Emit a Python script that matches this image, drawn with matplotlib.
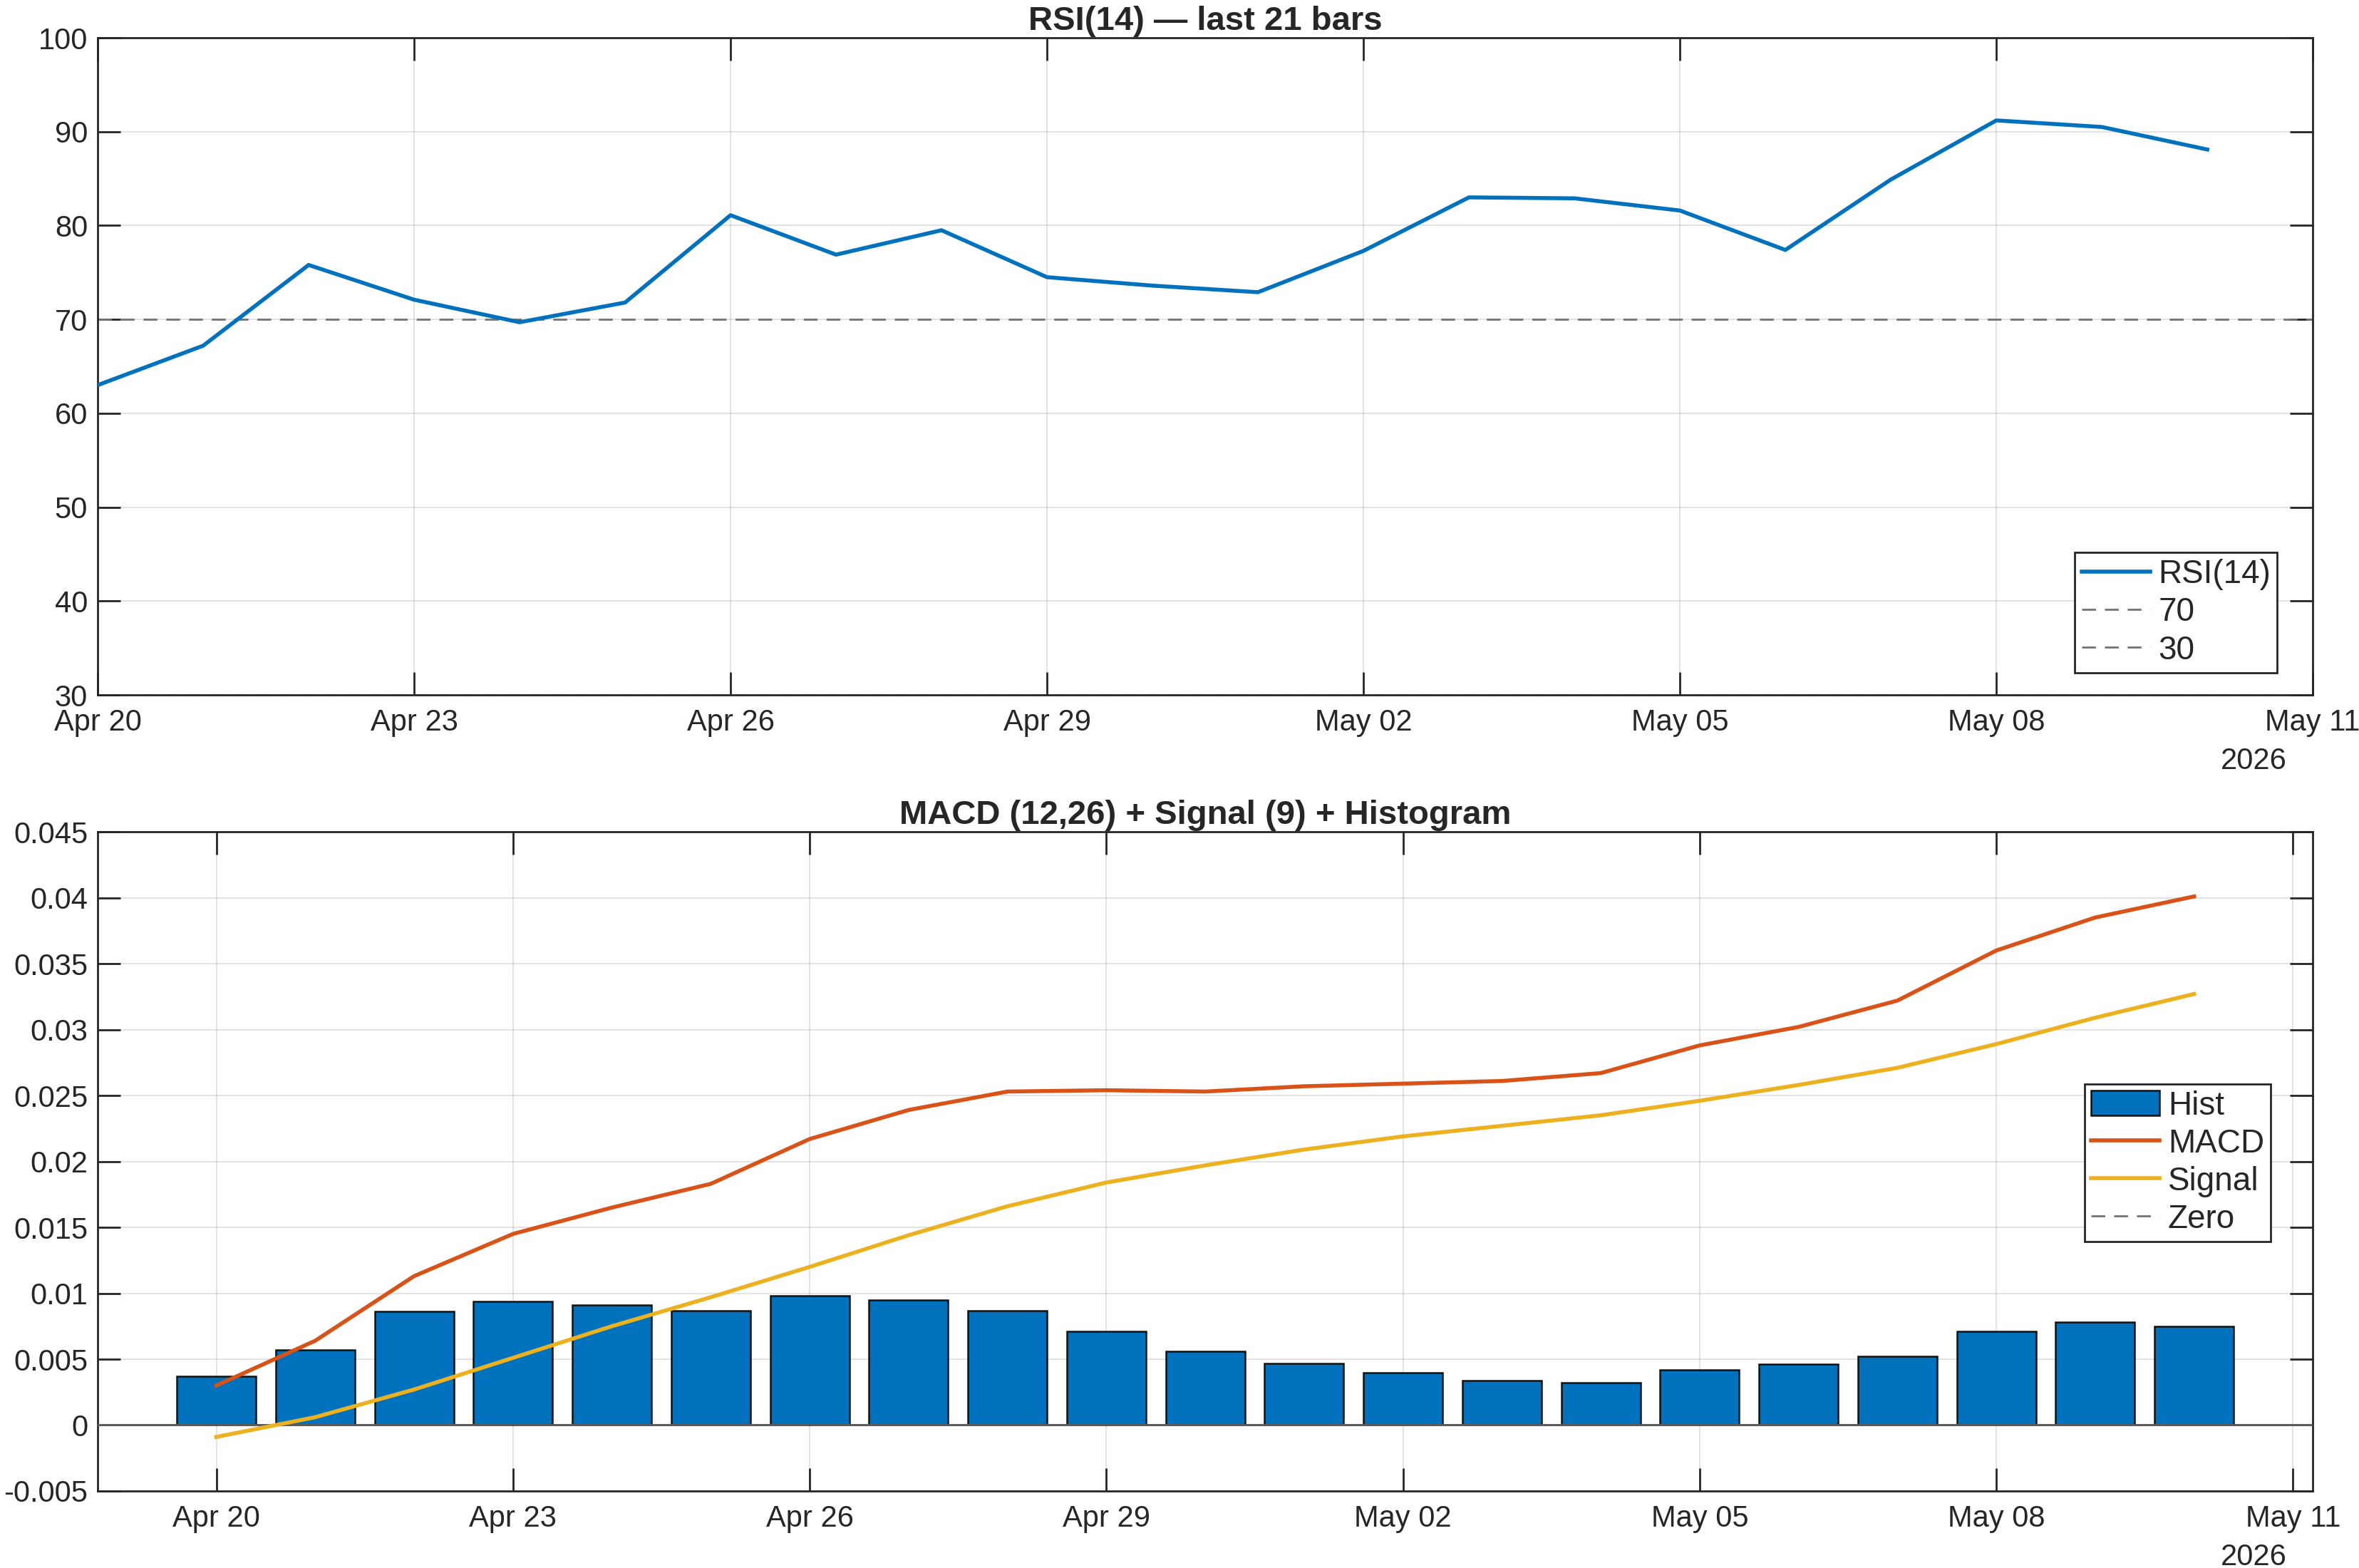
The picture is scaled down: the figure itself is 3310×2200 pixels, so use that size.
import numpy as np
import pandas as pd
import matplotlib
matplotlib.use("Agg")
import matplotlib.pyplot as plt
import matplotlib.dates as mdates
from matplotlib.ticker import FuncFormatter

# ---------------- data ----------------
dates = pd.date_range("2026-04-20", periods=21, freq="D")

rsi = [63.0, 67.2, 75.8, 72.1, 69.7, 71.8, 81.1, 76.9, 79.5, 74.5, 73.6,
       72.9, 77.3, 83.0, 82.9, 81.6, 77.4, 84.9, 91.2, 90.5, 88.1]

macd = [0.0030, 0.0064, 0.0113, 0.0145, 0.0165, 0.0183, 0.0217, 0.0239, 0.0253,
        0.0254, 0.0253, 0.0257, 0.0259, 0.0261, 0.0267, 0.0288, 0.0302, 0.0322,
        0.0360, 0.0385, 0.0401]
signal = [-0.0009, 0.0006, 0.0027, 0.0051, 0.0075, 0.0097, 0.0120, 0.0144, 0.0166,
          0.0184, 0.0197, 0.0209, 0.0219, 0.0227, 0.0235, 0.0246, 0.0258, 0.0271,
          0.0289, 0.0309, 0.0327]
hist = [0.0037, 0.0057, 0.0086, 0.0094, 0.0091, 0.0087, 0.0098, 0.0095, 0.0087,
        0.0071, 0.0056, 0.0047, 0.0040, 0.0034, 0.0032, 0.0042, 0.0046, 0.0052,
        0.0071, 0.0078, 0.0075]

overbought, oversold = 70, 30

# ---------------- style ----------------
plt.rcParams['font.family'] = ['Liberation Sans', 'DejaVu Sans']
plt.rcParams['axes.edgecolor'] = '#262626'
plt.rcParams['axes.linewidth'] = 1.0
plt.rcParams['text.color'] = '#262626'

blue = '#0072BD'
orange = '#D95319'
yellow = '#EDB120'
grey = '#737373'

fig = plt.figure(figsize=(16.55, 11), dpi=200)
ax1 = fig.add_axes([0.0414, 0.5568, 0.9390, 0.4191])
ax2 = fig.add_axes([0.0414, 0.0491, 0.9390, 0.4204])


def matlab_axes(ax):
    ax.grid(True, color='#262626', alpha=0.15, lw=0.6)
    ax.set_axisbelow(True)
    ax.tick_params(direction='in', length=11.5, width=1.0, top=True, right=True,
                   labelsize=15, colors='#262626', pad=7)
    ax.tick_params(axis='y', pad=5)
    ax.xaxis.set_major_locator(mdates.DayLocator(bymonthday=[2, 5, 8, 11, 20, 23, 26, 29]))
    ax.xaxis.set_major_formatter(mdates.DateFormatter('%b %d'))
    ax.annotate('2026', xy=(0.9884, 0), xycoords='axes fraction',
                xytext=(0, -33.5), textcoords='offset points',
                ha='right', va='center', fontsize=15, color='#262626')


# ---------------- RSI ----------------
ax1.plot(dates, rsi, color=blue, lw=2.0, label='RSI(14)', zorder=3)
ax1.axhline(overbought, color=grey, lw=1.0, ls=(0, (7, 4.5)), label='70', zorder=2)
ax1.axhline(oversold, color=grey, lw=1.0, ls=(0, (7, 4.5)), label='30', zorder=2)
ax1.set_xlim(pd.Timestamp('2026-04-20'), pd.Timestamp('2026-05-11'))
ax1.set_ylim(30, 100)
ax1.set_yticks(np.arange(30, 101, 10))
matlab_axes(ax1)
ax1.set_title('RSI(14) — last 21 bars', fontsize=17, fontweight='bold', pad=4)
leg1 = ax1.legend(loc='lower right', bbox_to_anchor=(0.984, 0.034), borderaxespad=0,
                  fontsize=16.5, fancybox=False, framealpha=1, edgecolor='#262626',
                  handlelength=2.1, handletextpad=0.25, labelspacing=0.2, borderpad=0.2)
leg1.get_frame().set_linewidth(1.0)

# ---------------- MACD ----------------
h_bar = ax2.bar(dates, hist, width=0.8, color=blue, edgecolor='#111111', lw=0.9,
                label='Hist', zorder=2)
h_macd, = ax2.plot(dates, macd, color=orange, lw=2.0, label='MACD', zorder=3)
h_sig, = ax2.plot(dates, signal, color=yellow, lw=2.0, label='Signal', zorder=3)
h_zero = ax2.axhline(0, color=grey, lw=1.0, ls=(0, (7, 4.5)), label='Zero', zorder=2.5)
ax2.axhline(0, color='#5a5a5a', lw=1.1, zorder=2.6)
ax2.set_xlim(dates[0] - pd.Timedelta(hours=28.8), dates[-1] + pd.Timedelta(hours=28.8))
ax2.set_ylim(-0.005, 0.045)
ax2.set_yticks(np.arange(-0.005, 0.0451, 0.005))
ax2.yaxis.set_major_formatter(FuncFormatter(lambda v, p: '%g' % round(v, 4)))
matlab_axes(ax2)
ax2.set_title('MACD (12,26) + Signal (9) + Histogram', fontsize=17, fontweight='bold', pad=4)
leg2 = ax2.legend([h_bar, h_macd, h_sig, h_zero], ['Hist', 'MACD', 'Signal', 'Zero'],
                  loc='lower right', bbox_to_anchor=(0.981, 0.378), borderaxespad=0,
                  fontsize=16.5, fancybox=False, framealpha=1, edgecolor='#262626',
                  handlelength=2.1, handleheight=0.8, handletextpad=0.25,
                  labelspacing=0.2, borderpad=0.2)
leg2.get_frame().set_linewidth(1.0)

fig.savefig('out.png', dpi=200, facecolor='white')
